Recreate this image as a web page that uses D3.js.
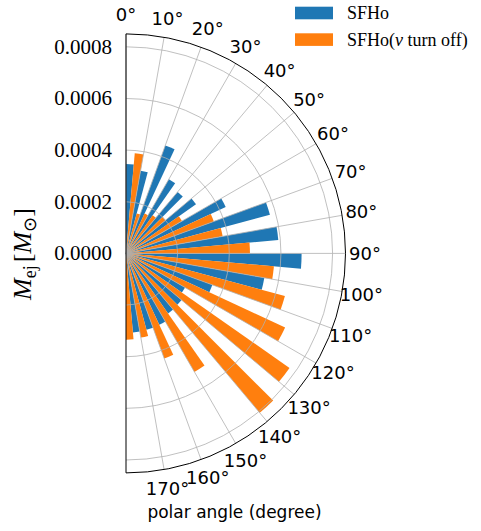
<!DOCTYPE html>
<html>
<head>
<meta charset="utf-8">
<script src="https://cdn.jsdelivr.net/npm/d3@7"></script>
<style>
  body { margin: 0; background: #fff; }
  svg { display: block; }
</style>
</head>
<body>
<svg id="chart" width="481" height="531"></svg>
<script>
// Ejecta mass per 10° polar-angle bin (lower bin edge in degrees)
const binStarts = [0, 10, 20, 30, 40, 50, 60, 70, 80, 90, 100, 110, 120, 130, 140, 150, 160, 170];
const binWidth = 10;

// M_ej [M_sun] per bin
const sfhoMass = [
  0.000346, 0.000325, 0.000445, 0.000332, 0.000311, 0.000331,
  0.000426, 0.000577, 0.000592, 0.000680, 0.000544, 0.000356,
  0.000264, 0.000281, 0.000284, 0.000305, 0.000306, 0.000307
];
const sfhoNuOffMass = [
  0.000389, 0.000160, 0.000170, 0.000180, 0.000200, 0.000250,
  0.000362, 0.000380, 0.000480, 0.000575, 0.000637, 0.000680,
  0.000773, 0.000806, 0.000530, 0.000433, 0.000331, 0.000334
];

const seriesNames = ["SFHo", "SFHo(ν turn off)"];
const seriesColors = ["#1f77b4", "#ff7f0e"];

const radialTicks = [0, 0.0002, 0.0004, 0.0006, 0.0008];
const radialTickLabels = ["0.0000", "0.0002", "0.0004", "0.0006", "0.0008"];
const angleTicks = [0, 10, 20, 30, 40, 50, 60, 70, 80, 90, 100, 110, 120, 130, 140, 150, 160, 170];
const radialMax = 0.00085;

const svg = d3.select("#chart");
const cx = 126, cy = 253.4, R = 219.5;

const r = d3.scaleLinear().domain([0, radialMax]).range([0, R]);
// 0° points up, angles grow clockwise over a half disc
const theta = d3.scaleLinear().domain([0, 180]).range([0, Math.PI]);

const g = svg.append("g").attr("transform", `translate(${cx},${cy})`);

// Bars: each series takes one half of every bin
const arc = d3.arc().innerRadius(0);
[sfhoMass, sfhoNuOffMass].forEach((vals, s) => {
  g.append("g").selectAll("path").data(vals).join("path")
    .attr("d", (v, i) => arc({
      outerRadius: r(v),
      startAngle: theta(binStarts[i] + s * binWidth / 2),
      endAngle: theta(binStarts[i] + (s + 1) * binWidth / 2)
    }))
    .attr("fill", seriesColors[s]);
});

// Grid drawn over the bars
const grid = g.append("g").attr("fill", "none").attr("stroke", "#b0b0b0").attr("stroke-width", 0.8);
radialTicks.filter(v => v > 0).forEach(v => {
  const p = d3.path();
  p.arc(0, 0, r(v), -Math.PI / 2, Math.PI / 2);
  grid.append("path").attr("d", p.toString());
});
grid.selectAll("line").data(angleTicks).join("line")
  .attr("x1", 0).attr("y1", 0)
  .attr("x2", d => R * Math.sin(theta(d)))
  .attr("y2", d => -R * Math.cos(theta(d)));

// Frame: outer arc and the straight edge
const frame = d3.path();
frame.moveTo(0, R);
frame.lineTo(0, -R);
frame.arc(0, 0, R, -Math.PI / 2, Math.PI / 2);
g.append("path").attr("d", frame.toString())
  .attr("fill", "none").attr("stroke", "#000").attr("stroke-width", 1);

// Angle labels
const labelR = R + 19.5;
g.append("g").selectAll("text").data(angleTicks).join("text")
  .attr("x", d => labelR * Math.sin(theta(d)))
  .attr("y", d => -labelR * Math.cos(theta(d)))
  .attr("text-anchor", "middle")
  .attr("dominant-baseline", "central")
  .attr("font-family", "DejaVu Sans")
  .attr("font-size", 18)
  .attr("fill", "#000")
  .text(d => `${d}°`);

// Radial labels on the left of the straight edge
g.append("g").selectAll("text").data(radialTicks).join("text")
  .attr("x", -14)
  .attr("y", d => -r(d))
  .attr("text-anchor", "end")
  .attr("dominant-baseline", "central")
  .attr("font-family", "Liberation Serif")
  .attr("font-size", 21)
  .attr("fill", "#000")
  .text((d, i) => radialTickLabels[i]);

// Axis titles
svg.append("text")
  .attr("x", 234.5).attr("y", 511.5)
  .attr("text-anchor", "middle").attr("dominant-baseline", "central")
  .attr("font-family", "DejaVu Sans").attr("font-size", 17)
  .text("polar angle (degree)");

const yl = svg.append("text")
  .attr("transform", "translate(31,254) rotate(-90)")
  .attr("text-anchor", "middle")
  .attr("font-family", "Liberation Serif").attr("font-size", 26);
yl.append("tspan").attr("font-style", "italic").text("M");
yl.append("tspan").attr("font-size", 18).attr("dy", 5).text("ej");
yl.append("tspan").attr("dy", -5).attr("dx", 3).text("[");
yl.append("tspan").attr("font-style", "italic").text("M");
yl.append("tspan").attr("font-size", 18).attr("dy", 5).attr("font-family", "DejaVu Sans").text("⊙");
yl.append("tspan").attr("dy", -5).text("]");

// Legend
const legend = svg.append("g").attr("transform", "translate(295,0)");
seriesNames.forEach((name, i) => {
  const row = legend.append("g").attr("transform", `translate(0,${6.7 + i * 26.6})`);
  row.append("rect").attr("width", 38).attr("height", 12.6).attr("fill", seriesColors[i]);
  const t = row.append("text").attr("x", 52).attr("y", 6.3)
    .attr("dominant-baseline", "central")
    .attr("font-family", "Liberation Serif").attr("font-size", 18);
  if (name.includes("ν")) {
    const [a, b] = name.split("ν");
    t.append("tspan").text(a);
    t.append("tspan").attr("font-style", "italic").text("ν");
    t.append("tspan").text(b);
  } else {
    t.text(name);
  }
});
</script>
</body>
</html>
